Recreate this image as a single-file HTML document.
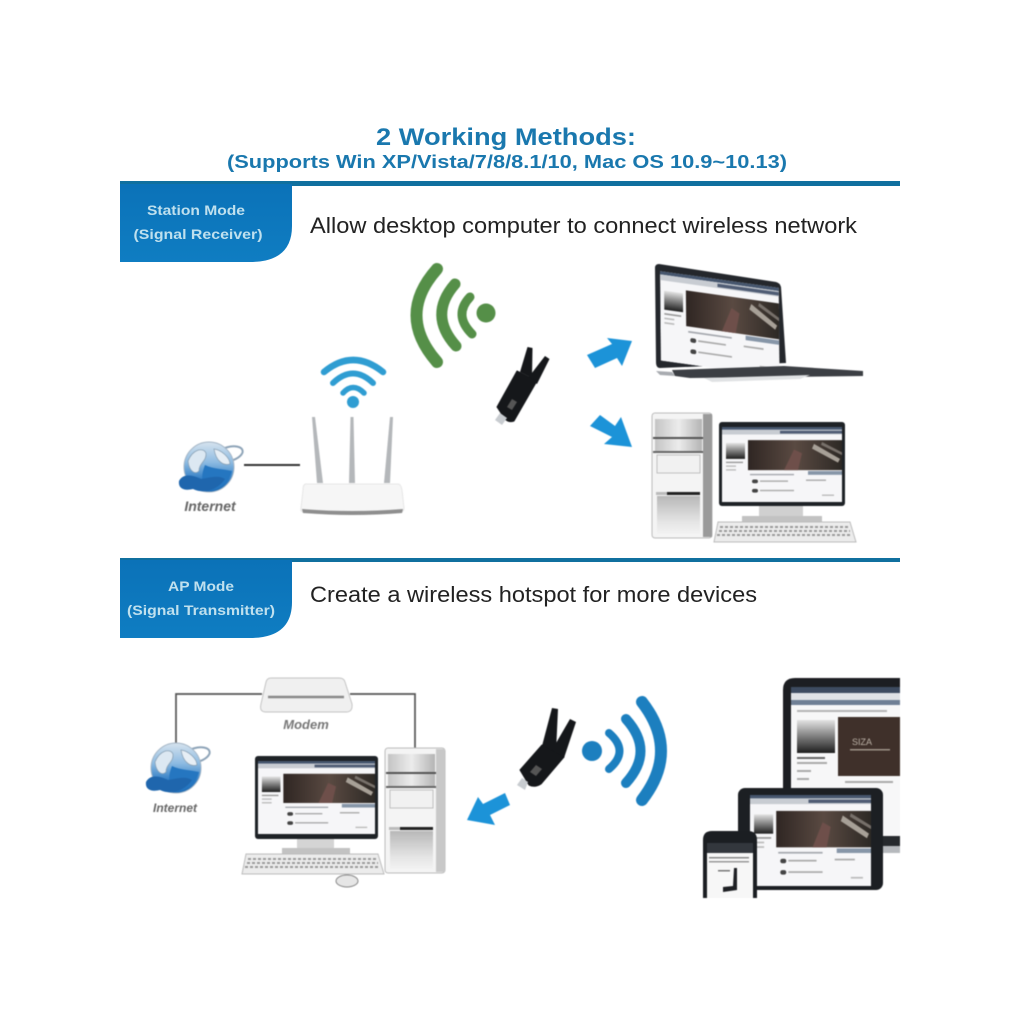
<!DOCTYPE html>
<html><head><meta charset="utf-8"><style>html,body{margin:0;padding:0;background:#fff}svg{display:block}text{font-family:"Liberation Sans",sans-serif}.soft{filter:blur(.55px)}</style></head><body>
<svg width="1024" height="1024" viewBox="0 0 1024 1024" xmlns="http://www.w3.org/2000/svg">
<defs>
<linearGradient id="tab" x1="0" y1="0" x2="0" y2="1"><stop offset="0" stop-color="#0b72b8"/><stop offset="1" stop-color="#0f7dc2"/></linearGradient>
<linearGradient id="band" x1="0" y1="0" x2="1" y2="0"><stop offset="0" stop-color="#c4c4c4"/><stop offset=".5" stop-color="#ececec"/><stop offset="1" stop-color="#b4b4b4"/></linearGradient>
<linearGradient id="bot" x1="0" y1="0" x2="0" y2="1"><stop offset="0" stop-color="#b8b8b8"/><stop offset=".7" stop-color="#e6e6e6"/><stop offset="1" stop-color="#f2f2f2"/></linearGradient>
<linearGradient id="thumb" x1="0" y1="0" x2="0" y2="1"><stop offset="0" stop-color="#e4e4e4"/><stop offset=".45" stop-color="#888"/><stop offset="1" stop-color="#1e1e1e"/></linearGradient>
<linearGradient id="brown" x1="0" y1="0" x2="1" y2="0"><stop offset="0" stop-color="#2f2623"/><stop offset=".5" stop-color="#5a4a42"/><stop offset="1" stop-color="#2d2925"/></linearGradient>
<linearGradient id="globe" x1="0" y1="0" x2="0" y2="1"><stop offset="0" stop-color="#d6e3ee"/><stop offset=".4" stop-color="#8fbce2"/><stop offset=".75" stop-color="#2f7cc4"/><stop offset="1" stop-color="#1c68b0"/></linearGradient>
<symbol id="screen" viewBox="0 0 120 80" preserveAspectRatio="none">
<rect width="120" height="80" fill="#f6f6f8"/>
<rect width="120" height="3" fill="#46566e"/>
<rect y="3" width="120" height="5" fill="#c8ccd2"/>
<rect x="58" y="4" width="62" height="3" fill="#4f5c74"/>
<rect x="4" y="17" width="19" height="17" fill="url(#thumb)"/>
<rect x="4" y="37" width="17" height="1.5" fill="#999"/><rect x="4" y="41" width="10" height="1.5" fill="#bbb"/><rect x="4" y="45" width="10" height="1.5" fill="#bbb"/>
<rect x="26" y="14" width="94" height="32" fill="url(#brown)"/>
<path d="M62 46 L72 24 L80 28 L76 46Z" fill="#6e4f4a"/>
<path d="M92 18L118 34 116 38 90 23Z" fill="#a7a097"/><path d="M100 16L120 27 120 30 99 19Z" fill="#77706a"/>
<rect x="28" y="50" width="44" height="1.5" fill="#a5a8ae"/><rect x="86" y="47" width="34" height="4" fill="#8796a8"/>
<rect x="30" y="56" width="6" height="4" rx="2" fill="#444"/><rect x="38" y="57" width="28" height="1.5" fill="#aaa"/><rect x="84" y="56" width="20" height="1.5" fill="#aaa"/>
<rect x="30" y="66" width="6" height="4" rx="2" fill="#444"/><rect x="38" y="67" width="34" height="1.5" fill="#aaa"/><rect x="100" y="72" width="12" height="1.5" fill="#bbb"/>
</symbol>
<g id="globeIcon">
<ellipse cx="20" cy="-13" rx="14" ry="7" fill="none" stroke="#8ea4b8" stroke-width="2" transform="rotate(-15 20 -13)"/>
<circle cx="0" cy="0" r="25" fill="url(#globe)" stroke="#a5b6c6" stroke-width="1"/>
<path d="M-21 -6 C-16 -18 -6 -20 -3 -14 C-2 -6 -10 -4 -10 4 C-14 8 -20 4 -21 -6Z" fill="#dce8f2" stroke="#8ba2b6" stroke-width=".8"/>
<path d="M5 -18 C13 -17 21 -9 21 -3 C15 -1 7 -5 5 -18Z" fill="#e6eef5" stroke="#8ba2b6" stroke-width=".8"/>
<path d="M-4 -2 C4 2 14 2 23 4 C20 16 10 24 -2 24 C-8 16 -8 8 -4 -2Z" fill="#2576c0"/>
<path d="M-30 14 C-26 6 -16 8 -8 12 C2 10 10 8 16 12 C8 24 -6 27 -16 22 C-24 24 -31 22 -30 14Z" fill="#1f66ad"/>
</g>
<g id="pc">
<rect x="0" y="0" width="60" height="125" rx="3" fill="#f4f4f4" stroke="#bcbcbc"/>
<rect x="51" y="1" width="9" height="123" fill="#9a9a9a"/>
<rect x="3" y="6" width="47" height="18" fill="url(#band)"/>
<rect x="1" y="24" width="50" height="2" fill="#555"/>
<rect x="3" y="26" width="47" height="12" fill="url(#band)"/>
<rect x="1" y="38" width="50" height="2" fill="#666"/>
<rect x="5" y="42" width="43" height="18" fill="#f1f1f1" stroke="#c0c0c0"/>
<rect x="4" y="79" width="44" height="3" fill="#bbb"/>
<rect x="15" y="79" width="33" height="3" fill="#222"/>
<rect x="5" y="83" width="43" height="38" fill="url(#bot)"/>
</g>
<g id="keyboard">
<path d="M4 0H136L142 20H0Z" fill="#ececec" stroke="#bcbcbc"/>
<path d="M6 5H134M5 9H136M3 13H138" stroke="#9a9a9a" stroke-width="2" stroke-dasharray="3 2"/>
</g>
</defs>

<text x="506" y="145" font-size="24" font-weight="700" fill="#1a78ae" text-anchor="middle" textLength="260" lengthAdjust="spacingAndGlyphs">2 Working Methods:</text>
<text x="507" y="168" font-size="18.5" font-weight="700" fill="#1a78ae" text-anchor="middle" textLength="560" lengthAdjust="spacingAndGlyphs">(Supports Win XP/Vista/7/8/8.1/10, Mac OS 10.9~10.13)</text>

<rect x="120" y="181" width="780" height="5" fill="#10709f"/>
<path d="M120 184H292V226Q292 262 250 262H120Z" fill="url(#tab)"/>
<text x="196" y="215" font-size="14" font-weight="700" fill="#bfe0ee" text-anchor="middle" textLength="98" lengthAdjust="spacingAndGlyphs">Station Mode</text>
<text x="198" y="239" font-size="14" font-weight="700" fill="#bfe0ee" text-anchor="middle" textLength="129" lengthAdjust="spacingAndGlyphs">(Signal Receiver)</text>
<text x="310" y="233" font-size="22.5" fill="#222" textLength="547" lengthAdjust="spacingAndGlyphs">Allow desktop computer to connect wireless network</text>

<rect x="120" y="558" width="780" height="4" fill="#10709f"/>
<path d="M120 560H292V602Q292 638 250 638H120Z" fill="url(#tab)"/>
<text x="201" y="591" font-size="14" font-weight="700" fill="#bfe0ee" text-anchor="middle" textLength="66" lengthAdjust="spacingAndGlyphs">AP Mode</text>
<text x="201" y="615" font-size="14" font-weight="700" fill="#bfe0ee" text-anchor="middle" textLength="148" lengthAdjust="spacingAndGlyphs">(Signal Transmitter)</text>
<text x="310" y="602" font-size="22.5" fill="#222" textLength="447" lengthAdjust="spacingAndGlyphs">Create a wireless hotspot for more devices</text>

<g class="soft">
<!-- green wifi -->
<g fill="none" stroke="#558f48" stroke-linecap="round">
<path d="M437 269 Q396 315 437 362" stroke-width="12"/>
<path d="M455 284 Q428 315 456 346" stroke-width="11"/>
<path d="M470 297 Q453 315 472 334" stroke-width="9"/>
</g>
<circle cx="486" cy="313" r="9.5" fill="#558f48"/>

<!-- blue wifi -->
<g fill="none" stroke="#2f9dd2" stroke-linecap="round">
<path d="M324 372 Q353 348 383 372" stroke-width="6.5"/>
<path d="M333 383 Q353 364 373 383" stroke-width="6"/>
<path d="M343 393 Q353 382 364 393" stroke-width="5.5"/>
</g>
<circle cx="353" cy="402" r="6" fill="#2f9dd2"/>

<!-- router -->
<g fill="#b4b7ba"><path d="M312 417L315 417 323 483 317 483Z"/><path d="M350.500 417L353.500 417 355 483 349 483Z"/><path d="M390 417L393 417 390 483 384 483Z"/></g>
<path d="M306 484H398Q401 484 402 490L404 508Q404 512 400 512H304Q300 512 301 508L303 490Q303 484 306 484Z" fill="#f6f6f6" stroke="#e6e6e6"/>
<path d="M302 509Q352 513 403 509L402 513Q352 517 303 513Z" fill="#8e8e8e"/>
<line x1="244" y1="465" x2="300" y2="465" stroke="#333" stroke-width="2"/>

<use href="#globeIcon" transform="translate(209 467)"/>
<text x="210" y="511" font-size="14" font-weight="700" font-style="italic" fill="#666" text-anchor="middle">Internet</text>

<!-- dongle 1 -->
<path d="M527.500 347L532.500 348 532 378 520 372Z" fill="#15171a"/>
<path d="M545 356L549.500 359 537 384 528 378Z" fill="#15171a"/>
<path d="M517 371L537 381 514 421Q509 423 505 419L497 407Z" fill="#15171a" stroke="#15171a" stroke-linejoin="round"/>
<path d="M507 407L512 399 517 402 512 410Z" fill="#555"/>
<path d="M495 420L500 413 507 418 502 425Z" fill="#c8ccd0"/>

<!-- arrows 1 -->
<path d="M587 355L612 344 607 338 632 341 622 366 617 358 595 368Z" fill="#1c93d8"/>
<path d="M600 415L615 426 621 417 632 447 604 444 612 437 590 426Z" fill="#1c93d8"/>

<!-- laptop -->
<path d="M659 264L776 282Q780 283 781 287L786 363 660 368Q656 368 656 362L655 268Q655 264 659 264Z" fill="#24272c"/>
<use href="#screen" x="0" y="0" width="120" height="80" transform="matrix(.99 .14 .01 1.12 660 271)"/>
<path d="M672 370L784 366 863 371 863 376 690 378 675 376Z" fill="#3c3f44"/>
<path d="M656 371L672 372 675 376 660 375Z" fill="#a8abb0"/>
<path d="M704 378L810 375 800 379 712 382Z" fill="#e0e2e4"/>

<!-- desktop 1 -->
<use href="#pc" transform="translate(652 413)"/>
<rect x="719" y="422" width="126" height="84" rx="3" fill="#1e2226"/>
<use href="#screen" x="722" y="427" width="120" height="75"/>
<rect x="759" y="506" width="44" height="10" fill="#d0d0d0"/>
<path d="M742 516H822V522H742Z" fill="#c2c2c2"/>
<use href="#keyboard" transform="translate(714 522)"/>

<!-- AP section -->
<path d="M176 745V694H262M350 694H415V750" fill="none" stroke="#555" stroke-width="1.7"/>
<path d="M271 678H339Q344 678 345 682L352 704Q353 712 346 712H266Q259 712 261 704L266 682Q267 678 271 678Z" fill="#f0f0f0" stroke="#c4c4c4"/>
<path d="M268 697H344" stroke="#8a8a8a" stroke-width="2.500"/>
<text x="306" y="729" font-size="13" font-weight="700" font-style="italic" fill="#777" text-anchor="middle">Modem</text>

<use href="#globeIcon" transform="translate(176 768)"/>
<text x="175" y="812" font-size="12" font-weight="700" font-style="italic" fill="#666" text-anchor="middle">Internet</text>

<rect x="255" y="756" width="123" height="83" rx="3" fill="#1e2226"/>
<use href="#screen" x="258" y="761" width="117" height="73"/>
<rect x="297" y="839" width="37" height="9" fill="#d4d4d4"/>
<path d="M282 848H350V854H282Z" fill="#c2c2c2"/>
<use href="#keyboard" transform="translate(242 854)"/>
<ellipse cx="347" cy="881" rx="11" ry="6" fill="#e6e6e6" stroke="#888"/>
<use href="#pc" transform="translate(385 748)"/>
<rect x="436" y="749" width="9" height="123" fill="#c8c8c8"/>

<!-- dongle 2 -->
<path d="M552 708L558 709 556 752 542 746Z" fill="#15171a"/>
<path d="M570 719L576 722 564 758 552 750Z" fill="#15171a"/>
<path d="M542 745L564 757 541 784Q535 788 529 785L520 770Z" fill="#15171a" stroke="#15171a" stroke-linejoin="round"/>
<path d="M530 772L536 765 542 769 536 776Z" fill="#555"/>
<path d="M517 785L522 778 528 782 525 790Z" fill="#c8ccd0"/>

<path d="M505 793L510 805 490 815 495 825 467 820 478 797 483 804Z" fill="#1c93d8"/>

<circle cx="592" cy="751" r="10" fill="#1c7fbf"/>
<g fill="none" stroke="#1c7fbf" stroke-linecap="round">
<path d="M609 733 Q630 751 609 769" stroke-width="8"/>
<path d="M626 719 Q655 751 626 783" stroke-width="10"/>
<path d="M642 702 Q680 751 642 800" stroke-width="12"/>
</g>

<!-- large tablet -->
<path d="M900 678H795Q783 678 783 690V790H900Z" fill="#1c1e22"/>
<rect x="791" y="687" width="109" height="149" fill="#f7f7f8"/>
<rect x="791" y="687" width="109" height="6" fill="#3d4b60"/>
<rect x="791" y="693" width="109" height="7" fill="#dfe2e6"/>
<rect x="791" y="700" width="109" height="5" fill="#6f7f95"/>
<rect x="797" y="710" width="90" height="2" fill="#b5b5b5"/>
<rect x="797" y="720" width="38" height="33" fill="url(#thumb)"/>
<rect x="797" y="757" width="28" height="2" fill="#666"/><rect x="797" y="762" width="30" height="2" fill="#aaa"/><rect x="797" y="770" width="14" height="2" fill="#aaa"/><rect x="797" y="778" width="12" height="2" fill="#aaa"/>
<rect x="838" y="717" width="62" height="59" fill="#3f302a"/>
<text x="852" y="745" font-size="9" fill="#bdb3a8">SIZA</text>
<rect x="850" y="749" width="40" height="1.500" fill="#9e9388"/>
<rect x="845" y="781" width="48" height="2" fill="#aaa"/>
<rect x="883" y="836" width="17" height="10" fill="#26292d"/>
<rect x="883" y="846" width="17" height="7" fill="#b6b9bd"/>
<!-- tablet -->
<rect x="738" y="788" width="145" height="102" rx="7" fill="#1c1f23"/>
<use href="#screen" x="750" y="795" width="121" height="91"/>
<!-- phone -->
<path d="M703 898V840Q703 831 712 831H748Q757 831 757 840V898Z" fill="#1b1e22"/>
<rect x="707" y="843" width="46" height="55" fill="#f7f7f7"/>
<rect x="707" y="843" width="46" height="10" fill="#33373d"/>
<rect x="709" y="857" width="40" height="1.500" fill="#888"/><rect x="709" y="861" width="40" height="1.500" fill="#999"/>
<rect x="718" y="870" width="12" height="1.500" fill="#777"/>
<path d="M734 868L737 868 737 890 723 892 723 887 733 886Z" fill="#1e2024"/>
</g>
</svg>
</body></html>
